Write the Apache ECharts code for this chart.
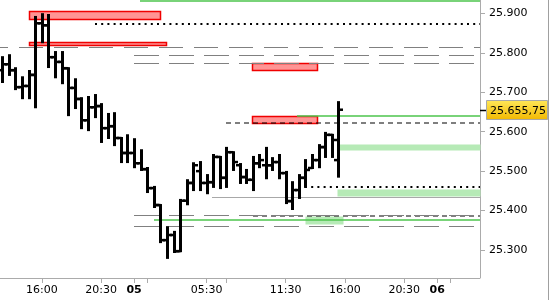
<!DOCTYPE html>
<html><head><meta charset="utf-8">
<script src="https://cdn.jsdelivr.net/npm/echarts@6/dist/echarts.min.js"></script>
<style>html,body{margin:0;padding:0;background:#fff}#c{width:550px;height:300px}</style>
</head><body><div id="c"></div>
<script>
// ---- data (30-minute bars, x = slot number, first bar = 1) ----
const barSlot  = [1,2,3,4,5,6,7,8,9,10,11,12,13,14,15,16,17,18,19,20,21,22,23,24,25,26,27,28,29,30,31,32,33,34,35,36,37,38,39,40,41,42,43,44,45,46,47,48,49,50,51,52];
const barOpen  = [25756,25771,25756,25713,25716,25744,25875,25870,25789,25777,25761,25711,25683,25629,25662,25665,25609,25614,25584,25546,25546,25520,25505,25457,25414,25325,25338,25297,25425,25470,25500,25470,25472,25536,25483,25548,25515,25485,25478,25520,25515,25515,25523,25495,25424,25452,25483,25508,25528,25561,25592,25528];
const barHigh  = [25789,25794,25761,25738,25754,25891,25898,25896,25802,25802,25761,25733,25685,25688,25693,25670,25645,25647,25584,25591,25581,25553,25508,25460,25414,25358,25346,25427,25477,25520,25523,25490,25541,25536,25559,25548,25518,25503,25536,25541,25559,25533,25541,25498,25472,25490,25528,25541,25566,25597,25592,25675];
const barLow   = [25726,25744,25708,25685,25685,25662,25827,25764,25738,25723,25642,25660,25609,25604,25637,25574,25584,25566,25523,25523,25510,25503,25447,25409,25320,25280,25295,25297,25416,25452,25452,25444,25460,25457,25460,25503,25470,25470,25452,25510,25482,25503,25482,25419,25404,25432,25460,25508,25510,25536,25536,25486];
const barClose = [25771,25756,25713,25716,25744,25875,25870,25789,25777,25761,25711,25683,25629,25662,25665,25609,25614,25584,25546,25546,25520,25505,25457,25414,25325,25338,25297,25425,25470,25515,25470,25472,25536,25483,25548,25523,25485,25478,25520,25528,25515,25523,25495,25424,25452,25483,25503,25528,25561,25592,25579,25655.75];

const xTickValues  = [7,16,21,23,32,35,44,53,62,67,69];
const xLabelValues = [7,16,21,32,44,53,62,67];
const xLabelTexts  = ['16:00','20:30','05','05:30','11:30','16:00','20:30','06'];
const xLabelBold   = [false,false,true,false,false,false,false,true];

const yTickValues = [25300,25400,25500,25600,25700,25800,25900];
const yTickLabels = ['25.300','25.400','25.500','25.600','25.700','25.800','25.900'];

const lastPrice = 25655.75;
const lastPriceLabel = '25.655,75';

// horizontal levels: price, start slot, kind
const levelPrice = [25932, 25873, 25461, 25623, 25387, 25814, 25795.5, 25775, 25390, 25362, 25434, 25641, 25375];
const levelStart = [21.9, 15, 47, 35, 39, 0.65, 21, 21, 21, 21, 32.8, 45.7, 24];
const levelKind  = ['green','dotted','dotted','dashed','dashed','grayDashA','grayDash','grayDash','grayDash','grayDash','gray','green','green'];

// zones: low, high, start slot, end slot, kind
const zoneLow   = [25885, 25820.7, 25757, 25622.7, 25554.7, 25437.7, 25366.7];
const zoneHigh  = [25905, 25828, 25773, 25640.7, 25570, 25454.6, 25387];
const zoneStart = [5.05, 5.05, 38.95, 38.95, 52.05, 51.8, 46.95];
const zoneEnd   = [24.9, 25.85, 48.8, 48.8, 73.5, 73.5, 52.7];
const zoneKind  = ['red','red','red','red','green','green','green'];

const X_MIN = 0.65, X_MAX = 73.5;
const FONT = 'DejaVu Sans';

const lineStyles = {
  green:     {stroke:'#4CC44C', lineWidth:1.5},
  dotted:    {stroke:'#000', lineWidth:2, lineDash:[2,4.2]},
  dashed:    {stroke:'#000', lineWidth:1.2, lineDash:[5,4]},
  grayDashA: {stroke:'#808080', lineWidth:1, lineDash:[24,11], lineDashOffset:16},
  grayDash:  {stroke:'#808080', lineWidth:1, lineDash:[25,10]},
  gray:      {stroke:'#A8A8A8', lineWidth:1}
};
const zoneStyles = {
  red:   {fill:'#FF9494', stroke:'#F00000', lineWidth:1.5},
  green: {fill:'#B6EAB6'}
};

const chart = echarts.init(document.getElementById('c'), null, {renderer:'canvas'});
chart.setOption({
  animation:false,
  backgroundColor:'#fff',
  grid:{left:0, right:70, top:0, bottom:22, containLabel:false, show:false},
  xAxis:{
    type:'value', min:X_MIN, max:X_MAX, position:'bottom',
    axisLine:{show:true, onZero:false, lineStyle:{color:'#ABABAB', width:1}},
    axisTick:{show:true, customValues:xTickValues, length:5, lineStyle:{color:'#ABABAB'}},
    axisLabel:{
      customValues:xLabelValues, margin:7, color:'#000', fontFamily:FONT, fontSize:11,
      formatter:function(v){
        const i = xLabelValues.indexOf(Math.round(v));
        if (i < 0) return '';
        return xLabelBold[i] ? '{b|' + xLabelTexts[i] + '}' : xLabelTexts[i];
      },
      rich:{b:{fontWeight:'bold', fontFamily:FONT, fontSize:11, color:'#000'}}
    },
    splitLine:{show:false}
  },
  yAxis:{
    type:'value', position:'right', min:25229, max:25934,
    axisLine:{show:false},
    axisTick:{show:true, customValues:yTickValues, length:5, lineStyle:{color:'#ABABAB'}},
    axisLabel:{
      customValues:yTickValues, margin:9, color:'#000', fontFamily:FONT, fontSize:11,
      formatter:function(v){ const i = yTickValues.indexOf(Math.round(v)); return i < 0 ? '' : yTickLabels[i]; }
    },
    splitLine:{show:false}
  },
  graphic:[
    {type:'line', shape:{x1:548.5,y1:0,x2:548.5,y2:300}, style:{stroke:'#A0A0A0', lineWidth:1}, silent:true},
    {type:'line', shape:{x1:480.5,y1:0,x2:480.5,y2:278}, style:{stroke:'#ABABAB', lineWidth:1}, silent:true}
  ],
  series:[
    {
      type:'custom', z:1, clip:false, silent:true,
      data: zoneLow.map((v,i)=>[zoneStart[i], zoneLow[i], zoneEnd[i], zoneHigh[i]]),
      renderItem:function(params, api){
        const i = params.dataIndex;
        const p0 = api.coord([api.value(0), api.value(3)]);
        const p1 = api.coord([api.value(2), api.value(1)]);
        const x0 = Math.round(p0[0]) + 0.5, y0 = Math.round(p0[1]) + 0.5;
        const x1 = Math.round(p1[0]) + 0.5, y1 = Math.round(p1[1]) + 0.5;
        return {type:'rect', shape:{x:x0, y:y0, width:x1-x0, height:y1-y0}, style:zoneStyles[zoneKind[i]]};
      }
    },
    {
      type:'custom', z:2, clip:false, silent:true,
      data: levelPrice.map((v,i)=>[levelStart[i], v, X_MAX]),
      renderItem:function(params, api){
        const i = params.dataIndex;
        const p0 = api.coord([api.value(0), api.value(1)]);
        const p1 = api.coord([api.value(2), api.value(1)]);
        const st = lineStyles[levelKind[i]];
        let y = p0[1];
        if (st.lineWidth === 1) y = Math.round(y) + 0.5; else y = Math.round(y);
        return {type:'line', shape:{x1:Math.round(p0[0]), y1:y, x2:p1[0], y2:y}, style:Object.assign({}, st)};
      }
    },
    {
      type:'custom', z:3, clip:false, silent:true,
      data: barOpen.map((o,i)=>[barSlot[i], o, barHigh[i], barLow[i], barClose[i]]),
      renderItem:function(params, api){
        const k = api.value(0);
        const pO = api.coord([k, api.value(1)]);
        const pH = api.coord([k, api.value(2)]);
        const pL = api.coord([k, api.value(3)]);
        const pC = api.coord([k, api.value(4)]);
        const x = Math.round(pO[0]) + 0.5;
        const t = 4.5;
        return {type:'group', children:[
          {type:'line', shape:{x1:x, y1:pH[1]-1, x2:x, y2:pL[1]+1}, style:{stroke:'#000', lineWidth:3}},
          {type:'line', shape:{x1:x-t, y1:pO[1], x2:x, y2:pO[1]}, style:{stroke:'#000', lineWidth:2.5}},
          {type:'line', shape:{x1:x, y1:pC[1], x2:x+t, y2:pC[1]}, style:{stroke:'#000', lineWidth:2.5}}
        ]};
      }
    },
    {
      type:'custom', z:5, clip:false, silent:true,
      data:[[X_MAX, lastPrice]],
      renderItem:function(params, api){
        const p = api.coord([api.value(0), api.value(1)]);
        const x = Math.round(p[0]), y = Math.round(p[1]);
        return {type:'group', children:[
          {type:'line', shape:{x1:x, y1:y+0.5, x2:x+6, y2:y+0.5}, style:{stroke:'#000', lineWidth:1.5}},
          {type:'rect', shape:{x:x+6.5, y:y-9.5, width:61, height:19},
            style:{fill:new echarts.graphic.LinearGradient(0,0,0,1,[{offset:0,color:'#FFE85A'},{offset:1,color:'#F2B800'}]), stroke:'#A8A8A8', lineWidth:1}},
          {type:'text', x:x+10, y:y+1, style:{text:lastPriceLabel, fill:'#000', font:'11px "DejaVu Sans"', verticalAlign:'middle', align:'left'}}
        ]};
      }
    }
  ]
});
</script></body></html>
